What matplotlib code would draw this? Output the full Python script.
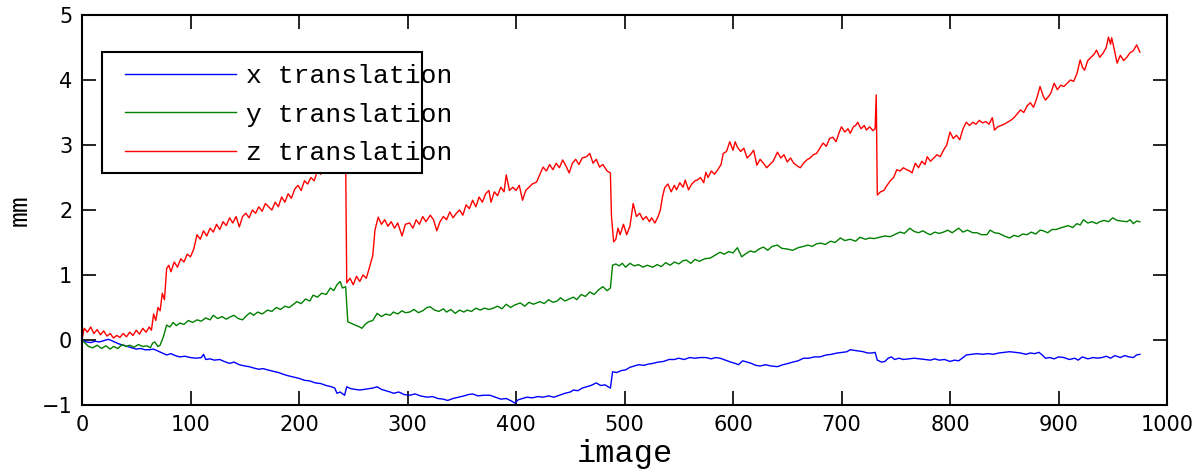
import numpy as np
import matplotlib
matplotlib.use('Agg')
import matplotlib.pyplot as plt
from matplotlib.patches import Rectangle

# image index / value pairs (mm)
x_img = [0, 4, 8, 12, 16, 20, 24, 26, 30, 34, 38, 42, 46, 50, 54, 58, 62, 66, 70, 74, 78, 82, 86, 90, 95, 100,
         105, 110, 112, 114, 118, 122, 127, 131, 136, 140, 145, 150, 154, 158, 163, 167, 171, 176, 181, 186, 190,
         195, 200, 205, 210, 215, 220, 225, 230, 233, 235, 238, 242, 244, 248, 252, 256, 260, 264, 268, 272, 276,
         280, 284, 287, 292, 297, 302, 307, 312, 318, 323, 328, 333, 337, 342, 347, 352, 356, 360, 365, 370, 376,
         381, 386, 391, 396, 399, 402, 406, 410, 415, 420, 425, 430, 435, 440, 445, 450, 453, 457, 461, 465, 469,
         474, 478, 482, 487, 489, 493, 497, 501, 505, 509, 513, 518, 522, 526, 531, 536, 541, 546, 550, 555, 560,
         565, 570, 575, 580, 584, 588, 593, 598, 602, 605, 609, 613, 617, 621, 625, 630, 635, 641, 646, 651, 655,
         660, 665, 670, 675, 680, 686, 691, 696, 701, 705, 708, 712, 716, 720, 724, 728, 731, 733, 737, 740, 743,
         746, 749, 753, 757, 762, 767, 772, 777, 782, 786, 790, 795, 800, 804, 808, 812, 815, 820, 825, 830, 835,
         840, 845, 850, 855, 860, 865, 870, 874, 878, 882, 885, 888, 892, 896, 900, 905, 910, 915, 918, 922, 927,
         932, 936, 940, 944, 948, 952, 957, 961, 965, 969, 972, 975]
x_trans = [0.0, -0.03, -0.04, -0.02, -0.03, -0.01, 0.01, 0.0, -0.03, -0.06, -0.08, -0.1, -0.12, -0.14, -0.13,
           -0.15, -0.15, -0.14, -0.17, -0.2, -0.23, -0.21, -0.24, -0.26, -0.25, -0.27, -0.28, -0.27, -0.22, -0.3,
           -0.29, -0.31, -0.3, -0.33, -0.36, -0.34, -0.38, -0.4, -0.41, -0.43, -0.45, -0.44, -0.46, -0.48, -0.5,
           -0.53, -0.55, -0.57, -0.59, -0.62, -0.63, -0.66, -0.67, -0.7, -0.72, -0.74, -0.82, -0.8, -0.85, -0.72,
           -0.75, -0.76, -0.77, -0.76, -0.75, -0.74, -0.72, -0.76, -0.78, -0.8, -0.82, -0.8, -0.84, -0.85, -0.83,
           -0.86, -0.88, -0.87, -0.9, -0.91, -0.93, -0.9, -0.88, -0.86, -0.84, -0.83, -0.86, -0.85, -0.85, -0.88,
           -0.91, -0.9, -0.94, -0.97, -0.92, -0.9, -0.88, -0.89, -0.87, -0.88, -0.86, -0.88, -0.85, -0.82, -0.8,
           -0.77, -0.78, -0.74, -0.72, -0.7, -0.66, -0.7, -0.69, -0.74, -0.49, -0.5, -0.47, -0.46, -0.42, -0.4,
           -0.38, -0.39, -0.37, -0.36, -0.34, -0.33, -0.3, -0.3, -0.28, -0.3, -0.27, -0.28, -0.27, -0.27, -0.29,
           -0.27, -0.28, -0.31, -0.34, -0.36, -0.38, -0.32, -0.34, -0.36, -0.39, -0.4, -0.38, -0.4, -0.41, -0.38,
           -0.36, -0.34, -0.32, -0.28, -0.28, -0.26, -0.26, -0.23, -0.22, -0.2, -0.19, -0.18, -0.15, -0.16, -0.17,
           -0.18, -0.2, -0.2, -0.19, -0.31, -0.34, -0.33, -0.28, -0.26, -0.3, -0.28, -0.3, -0.29, -0.28, -0.29,
           -0.3, -0.31, -0.29, -0.31, -0.3, -0.33, -0.31, -0.32, -0.27, -0.23, -0.22, -0.21, -0.22, -0.21, -0.22,
           -0.2, -0.19, -0.18, -0.19, -0.2, -0.22, -0.2, -0.21, -0.19, -0.23, -0.28, -0.27, -0.29, -0.26, -0.27,
           -0.3, -0.28, -0.31, -0.26, -0.29, -0.27, -0.28, -0.27, -0.25, -0.28, -0.24, -0.27, -0.24, -0.26, -0.27,
           -0.23, -0.22]

y_img = [0, 3, 6, 10, 14, 18, 22, 26, 29, 33, 37, 41, 44, 48, 52, 56, 60, 63, 65, 67, 70, 72, 75, 78, 81, 84,
         87, 90, 94, 98, 102, 106, 110, 114, 118, 121, 125, 129, 133, 136, 140, 144, 148, 152, 155, 158, 162, 166,
         171, 175, 179, 183, 187, 191, 195, 198, 202, 206, 210, 213, 217, 221, 225, 229, 232, 235, 238, 240, 243,
         245, 249, 253, 256, 258, 261, 264, 268, 272, 276, 280, 284, 287, 291, 295, 298, 302, 306, 310, 314, 318,
         321, 325, 329, 333, 336, 340, 344, 348, 352, 355, 359, 363, 367, 371, 375, 379, 383, 387, 391, 395, 399,
         404, 408, 412, 416, 422, 426, 430, 434, 438, 441, 445, 449, 453, 456, 460, 464, 468, 472, 476, 480, 484,
         487, 489, 492, 495, 498, 501, 505, 509, 513, 517, 521, 526, 530, 534, 538, 542, 546, 550, 554, 557, 561,
         565, 569, 574, 579, 583, 588, 592, 596, 600, 604, 608, 612, 616, 620, 624, 628, 632, 636, 641, 645, 650,
         655, 660, 665, 669, 673, 677, 681, 685, 690, 694, 699, 703, 708, 713, 717, 722, 726, 730, 735, 740, 745,
         750, 754, 758, 763, 767, 771, 775, 779, 782, 786, 790, 794, 798, 802, 808, 812, 816, 821, 825, 829, 834,
         837, 841, 845, 850, 855, 859, 863, 867, 871, 875, 879, 883, 886, 890, 894, 898, 901, 905, 909, 913, 917,
         920, 923, 927, 931, 935, 938, 942, 946, 950, 954, 958, 963, 966, 969, 972, 975]
y_trans = [0.0, -0.05, -0.1, -0.12, -0.08, -0.13, -0.09, -0.14, -0.1, -0.13, -0.07, -0.1, -0.08, -0.11, -0.07,
           -0.1, -0.09, -0.12, -0.05, -0.03, -0.1, -0.08, 0.05, 0.23, 0.2, 0.27, 0.22, 0.26, 0.24, 0.3, 0.27, 0.31,
           0.29, 0.34, 0.31, 0.38, 0.33, 0.36, 0.32, 0.35, 0.38, 0.33, 0.31, 0.38, 0.42, 0.38, 0.43, 0.4, 0.46,
           0.44, 0.5, 0.47, 0.52, 0.5, 0.55, 0.59, 0.56, 0.63, 0.6, 0.69, 0.66, 0.72, 0.7, 0.8, 0.76, 0.85, 0.9,
           0.8, 0.82, 0.28, 0.25, 0.22, 0.2, 0.18, 0.24, 0.28, 0.3, 0.41, 0.36, 0.4, 0.38, 0.43, 0.4, 0.45, 0.42,
           0.43, 0.47, 0.42, 0.45, 0.5, 0.51, 0.46, 0.44, 0.48, 0.43, 0.47, 0.41, 0.46, 0.43, 0.46, 0.44, 0.49,
           0.46, 0.49, 0.47, 0.49, 0.52, 0.48, 0.55, 0.5, 0.54, 0.57, 0.52, 0.58, 0.55, 0.59, 0.56, 0.62, 0.58,
           0.6, 0.65, 0.6, 0.63, 0.66, 0.62, 0.7, 0.67, 0.74, 0.7, 0.77, 0.82, 0.76, 0.8, 1.15, 1.17, 1.14, 1.18,
           1.12, 1.18, 1.14, 1.16, 1.12, 1.15, 1.12, 1.16, 1.13, 1.19, 1.15, 1.2, 1.17, 1.22, 1.23, 1.18, 1.24,
           1.21, 1.25, 1.26, 1.3, 1.35, 1.32, 1.36, 1.34, 1.42, 1.28, 1.33, 1.37, 1.35, 1.4, 1.43, 1.38, 1.44,
           1.46, 1.41, 1.4, 1.38, 1.42, 1.44, 1.46, 1.44, 1.48, 1.49, 1.47, 1.52, 1.5, 1.57, 1.53, 1.55, 1.52,
           1.58, 1.55, 1.57, 1.56, 1.58, 1.6, 1.59, 1.63, 1.66, 1.64, 1.72, 1.67, 1.65, 1.68, 1.64, 1.62, 1.66,
           1.64, 1.66, 1.69, 1.65, 1.72, 1.66, 1.69, 1.65, 1.65, 1.62, 1.62, 1.69, 1.65, 1.64, 1.6, 1.57, 1.61,
           1.59, 1.63, 1.62, 1.66, 1.63, 1.69, 1.68, 1.65, 1.7, 1.7, 1.72, 1.74, 1.76, 1.73, 1.79, 1.77, 1.85,
           1.8, 1.82, 1.79, 1.82, 1.84, 1.82, 1.88, 1.84, 1.83, 1.82, 1.85, 1.79, 1.83, 1.82]

z_img = [0, 2, 5, 8, 11, 14, 17, 20, 23, 26, 29, 32, 35, 38, 41, 44, 47, 50, 53, 56, 59, 62, 64, 66, 68, 70, 72,
         74, 76, 78, 80, 82, 85, 88, 91, 94, 97, 100, 103, 106, 109, 112, 115, 118, 121, 124, 127, 130, 133, 136,
         139, 142, 145, 148, 151, 154, 157, 160, 163, 166, 169, 172, 175, 178, 181, 184, 187, 190, 193, 196, 199,
         202, 205, 208, 211, 214, 217, 220, 224, 228, 232, 236, 240, 243, 244, 247, 250, 253, 256, 259, 262, 265,
         268, 270, 273, 276, 279, 282, 285, 288, 291, 295, 298, 302, 305, 308, 311, 314, 317, 321, 324, 327, 330,
         333, 336, 339, 342, 345, 348, 351, 354, 357, 360, 363, 366, 369, 372, 375, 377, 380, 383, 386, 389, 391,
         394, 397, 400, 403, 406, 409, 412, 415, 419, 422, 425, 428, 431, 434, 437, 440, 443, 446, 449, 452, 455,
         458, 461, 465, 468, 471, 474, 477, 480, 484, 487, 488, 490, 492, 494, 496, 499, 502, 505, 508, 511, 514,
         517, 520, 523, 525, 528, 531, 533, 535, 537, 540, 543, 546, 548, 551, 554, 556, 559, 562, 565, 567, 570,
         573, 575, 577, 580, 583, 586, 589, 591, 594, 597, 600, 602, 604, 607, 610, 613, 616, 619, 622, 625, 628,
         631, 634, 637, 641, 644, 647, 650, 653, 656, 659, 662, 665, 668, 671, 674, 677, 680, 683, 686, 689, 692,
         695, 698, 700, 703, 706, 708, 711, 713, 715, 718, 721, 723, 726, 729, 731, 732, 733, 736, 739, 742, 745,
         748, 751, 754, 757, 760, 763, 765, 768, 771, 774, 777, 779, 782, 785, 788, 791, 794, 797, 800, 803, 806,
         809, 812, 815, 818, 821, 824, 827, 830, 833, 836, 839, 841, 844, 847, 850, 853, 856, 859, 862, 865, 868,
         871, 874, 877, 880, 883, 886, 888, 891, 893, 896, 899, 902, 905, 908, 911, 914, 917, 920, 922, 924, 927,
         930, 933, 935, 938, 941, 944, 946, 948, 949, 951, 954, 957, 960, 963, 966, 969, 972, 975]
z_trans = [0.0, 0.18, 0.12, 0.2, 0.1, 0.16, 0.08, 0.14, 0.06, 0.1, 0.03, 0.07, 0.04, 0.1, 0.05, 0.12, 0.07, 0.15,
           0.09, 0.18, 0.12, 0.2, 0.15, 0.4, 0.3, 0.5, 0.45, 0.72, 0.62, 1.1, 1.15, 1.05, 1.2, 1.12, 1.25, 1.2,
           1.32, 1.28, 1.4, 1.62, 1.55, 1.68, 1.6, 1.72, 1.66, 1.78, 1.7, 1.82, 1.76, 1.88, 1.8, 1.9, 1.74, 1.9,
           1.95, 1.88, 2.0, 1.95, 2.05, 1.98, 2.1, 2.05, 2.0, 2.12, 2.05, 2.2, 2.12, 2.25, 2.18, 2.32, 2.38, 2.3,
           2.45, 2.4, 2.5, 2.45, 2.6, 2.55, 2.65, 2.6, 2.72, 2.68, 2.78, 2.75, 0.88, 0.95, 0.85, 0.98, 0.9, 1.0,
           0.95, 1.12, 1.3, 1.69, 1.89, 1.78, 1.85, 1.75, 1.82, 1.72, 1.8, 1.6, 1.78, 1.8, 1.72, 1.85, 1.78, 1.9,
           1.82, 1.92, 1.85, 1.68, 1.82, 1.9, 1.85, 1.97, 1.88, 1.95, 2.0, 1.92, 2.08, 2.02, 2.15, 2.05, 2.2, 2.12,
           2.25, 2.3, 2.12, 2.28, 2.22, 2.35, 2.28, 2.54, 2.3, 2.35, 2.3, 2.38, 2.15, 2.3, 2.35, 2.4, 2.43, 2.55,
           2.66, 2.6, 2.7, 2.62, 2.72, 2.65, 2.77, 2.68, 2.57, 2.72, 2.78, 2.7, 2.8, 2.82, 2.87, 2.72, 2.78, 2.66,
           2.7, 2.6, 2.57, 1.9, 1.51, 1.55, 1.72, 1.62, 1.78, 1.62, 1.75, 2.1, 1.9, 1.95, 1.85, 1.9, 1.82, 1.88,
           1.8, 1.9, 2.0, 2.2, 2.34, 2.4, 2.28, 2.38, 2.31, 2.42, 2.35, 2.46, 2.31, 2.4, 2.45, 2.46, 2.5, 2.42,
           2.58, 2.5, 2.6, 2.55, 2.62, 2.7, 2.87, 2.9, 3.05, 2.92, 3.05, 2.97, 2.9, 2.95, 2.8, 2.85, 2.92, 2.69,
           2.78, 2.72, 2.65, 2.7, 2.75, 2.89, 2.8, 2.85, 2.74, 2.8, 2.72, 2.68, 2.65, 2.72, 2.77, 2.8, 2.85, 2.87,
           2.95, 3.03, 2.98, 3.1, 3.12, 3.05, 3.2, 3.28, 3.2, 3.25, 3.18, 3.28, 3.3, 3.35, 3.25, 3.3, 3.23, 3.28,
           3.22, 3.25, 3.77, 2.23, 2.28, 2.3, 2.38, 2.45, 2.5, 2.62, 2.6, 2.65, 2.62, 2.6, 2.57, 2.72, 2.65, 2.75,
           2.7, 2.82, 2.75, 2.8, 2.85, 2.82, 2.92, 3.0, 3.2, 3.1, 3.15, 3.08, 3.25, 3.35, 3.3, 3.35, 3.32, 3.38,
           3.34, 3.36, 3.32, 3.42, 3.23, 3.28, 3.3, 3.32, 3.35, 3.38, 3.42, 3.48, 3.54, 3.5, 3.6, 3.65, 3.58,
           3.72, 3.9, 3.75, 3.69, 3.75, 3.8, 3.95, 3.85, 3.92, 3.9, 3.95, 4.0, 3.98, 4.1, 4.31, 4.2, 4.15, 4.3,
           4.35, 4.4, 4.46, 4.35, 4.41, 4.5, 4.66, 4.55, 4.65, 4.5, 4.26, 4.38, 4.3, 4.35, 4.42, 4.45, 4.54, 4.43]

labels = ['x translation', 'y translation', 'z translation']
colors = ['#0000ff', '#008000', '#ff0000']
xticks = [0, 100, 200, 300, 400, 500, 600, 700, 800, 900, 1000]
yticks = [-1, 0, 1, 2, 3, 4, 5]

mono = 'Liberation Mono'

fig = plt.figure(figsize=(12.03, 4.72), dpi=100)
ax = fig.add_axes([82/1203, 1-405/472, 1085/1203, 390/472])

lines = []
for xs, ys, c, lab in zip([x_img, y_img, z_img], [x_trans, y_trans, z_trans], colors, labels):
    l, = ax.plot(xs, ys, color=c, lw=1.0, label=lab)
    lines.append(l)

ax.set_xlim(0, 1000)
ax.set_ylim(-1, 5)
ax.set_xticks(xticks)
ax.set_yticks(yticks)
ax.tick_params(direction='in', length=10, width=1.2, top=True, right=True, labelsize=15, pad=7)
for sp in ax.spines.values():
    sp.set_linewidth(1.5)

ax.set_xlabel('image', fontsize=23, family=mono, labelpad=3)
ax.set_ylabel('mm', fontsize=19, family=mono, labelpad=7)

# MATLAB-like legend box: text runs over its right edge
ax.add_patch(Rectangle((20/1085, (405-173)/390), 320/1085, 121/390, transform=ax.transAxes,
                       facecolor='white', edgecolor='black', lw=1.5, zorder=4))
ax.legend(handles=lines, loc='upper left', bbox_to_anchor=(43/1085, (405-64)/390), frameon=False,
          prop={'family': mono, 'size': 19}, handlelength=4.2, handletextpad=0.4,
          labelspacing=0.55, borderpad=0, borderaxespad=0)

fig.savefig('out.png', dpi=100)
